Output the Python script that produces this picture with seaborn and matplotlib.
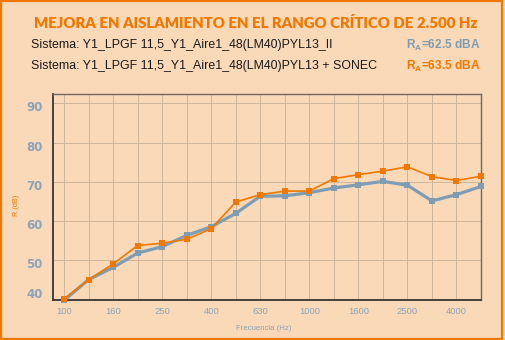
import matplotlib
matplotlib.use("Agg")
import matplotlib.pyplot as plt
import matplotlib.transforms as mtransforms
import seaborn as sns
import pandas as pd
import numpy as np

freqs = [100, 125, 160, 200, 250, 315, 400, 500, 630, 800, 1000, 1250,
         1600, 2000, 2500, 3150, 4000, 5000]
r_base = [39.7, 45.0, 48.1, 51.8, 53.4, 56.3, 58.5, 61.9, 66.3, 66.4, 67.2,
          68.4, 69.2, 70.1, 69.1, 65.1, 66.7, 68.8]
r_sonec = [40.1, 45.0, 49.0, 53.7, 54.3, 55.3, 58.0, 64.8, 66.7, 67.6, 67.6,
           70.8, 71.8, 72.7, 73.8, 71.3, 70.3, 71.4]
x_ticks = ["100", "160", "250", "400", "630", "1000", "1600", "2500", "4000"]
y_ticks = [40, 50, 60, 70, 80, 90]

title = "MEJORA EN AISLAMIENTO EN EL RANGO CRÍTICO DE 2.500 Hz"
sys_base = "Sistema: Y1_LPGF 11,5_Y1_Aire1_48(LM40)PYL13_II"
sys_sonec = "Sistema: Y1_LPGF 11,5_Y1_Aire1_48(LM40)PYL13 + SONEC"
ra_base = 62.5
ra_sonec = 63.5

BG = "#fad9b8"
ORANGE = "#f07800"
BLUE = "#7d9db4"
TICK = "#8ba3b8"

sns.set_theme(style="white")
plt.rcParams["font.family"] = ["Liberation Sans", "DejaVu Sans"]

df = pd.DataFrame({
    "pos": np.arange(len(freqs)),
    "freq": [str(f) for f in freqs],
    "base": r_base,
    "sonec": r_sonec,
})

fig = plt.figure(figsize=(5.05, 3.40), dpi=100, facecolor=BG)
fig.patches.append(plt.Rectangle((0.002, 0.003), 0.993, 0.994, transform=fig.transFigure,
                                 fill=False, edgecolor=ORANGE, linewidth=1.6))
W, H = 505, 340
ax = fig.add_axes([52.5 / W, 1 - 300 / H, (481 - 52.5) / W, (300 - 94) / H])
ax.set_facecolor(BG)

sns.lineplot(data=df, x="pos", y="base", ax=ax, color=BLUE, linewidth=2.3,
             marker="s", markersize=4.8, markeredgewidth=0, zorder=3, clip_on=False)
sns.lineplot(data=df, x="pos", y="sonec", ax=ax, color=ORANGE, linewidth=1.2,
             marker="s", markersize=4.8, markeredgewidth=0, zorder=4, clip_on=False)

ax.set_xlim(-0.47, len(freqs) - 1)
ax.set_ylim(39.8, 92.4)
ax.set_xticks(np.arange(len(freqs)))
ax.set_xticklabels([f if f in x_ticks else "" for f in df["freq"]])
ax.set_yticks(y_ticks)
ax.set_yticklabels([str(v) for v in y_ticks])
ax.grid(True, color="#cdb59c", linewidth=0.7)
ax.tick_params(axis="x", length=0, pad=5, labelsize=6.8, labelcolor=TICK)
ax.tick_params(axis="y", length=0, pad=7, labelsize=8.5, labelcolor=TICK)
# value labels sit a little below their gridlines; the lowest one is lifted inside the frame
for i, lab in enumerate(ax.get_yticklabels()):
    lab.set_fontweight("bold")
    lab.set_family("DejaVu Sans")
    dy = 6 if i == 0 else -3
    lab.set_transform(lab.get_transform() +
                      mtransforms.ScaledTranslation(0, dy / 100, fig.dpi_scale_trans))
for side, sp in ax.spines.items():
    sp.set_visible(True)
    sp.set_linewidth(1.3 if side in ("left", "bottom") else 1.0)
    sp.set_color("#3a3632" if side in ("left", "bottom") else "#6e6862")
ax.set_xlabel("")
ax.set_ylabel("")
fig.text(264 / W, 1 - 328 / H, "Frecuencia (Hz)", ha="center", va="center",
         fontsize=5.6, color=TICK)
fig.text(17 / W, 1 - 205 / H, "R (dB)", ha="center", va="center", rotation=90,
         fontsize=5.3, color=ORANGE)

fig.text(256 / W, 1 - 23 / H, title, ha="center", va="center", color=ORANGE,
         fontsize=10.85, fontweight="heavy", family=["Lato", "DejaVu Sans"])
fig.text(31 / W, 1 - 45 / H, sys_base, ha="left", va="center", color="#1a1a1a", fontsize=8.9)
fig.text(31 / W, 1 - 66 / H, sys_sonec, ha="left", va="center", color="#1a1a1a", fontsize=8.9)
fig.text(480 / W, 1 - 45 / H, r"R$_{\mathregular{A}}$=%.1f dBA" % ra_base, ha="right",
         va="center", color=BLUE, fontsize=8.6, fontweight="bold")
fig.text(480 / W, 1 - 66 / H, r"R$_{\mathregular{A}}$=%.1f dBA" % ra_sonec, ha="right",
         va="center", color=ORANGE, fontsize=8.6, fontweight="bold")

fig.savefig("out.png", dpi=100, facecolor=BG)
